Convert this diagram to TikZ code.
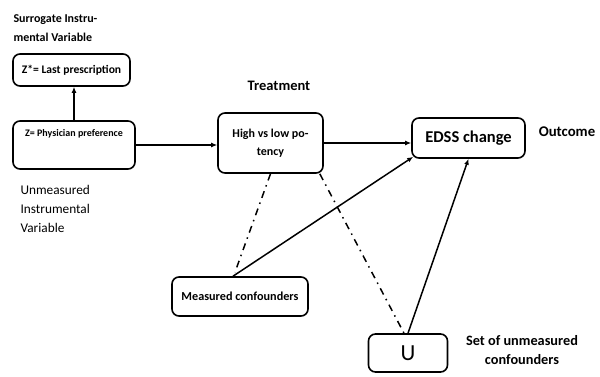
\documentclass[tikz,border=0pt]{standalone}
\usepackage{fontspec}
\setmainfont{Carlito}
\usetikzlibrary{arrows.meta}
\begin{document}
\begin{tikzpicture}[x=1pt,y=-1pt,
 box/.style={draw, line width=1.6pt, rounded corners=7pt, inner sep=0pt, align=center},
 bf/.style={font=\bfseries\fontsize{#1}{#1}\selectfont},
 arr/.style={line width=1.5pt, -{Latex[length=6pt,width=5pt]}},
 dd/.style={line width=1.5pt, dash pattern=on 7pt off 5pt on 1.5pt off 5pt}]
\useasboundingbox (0,0) rectangle (600,376);
% boxes
\node[box, minimum width=117pt, minimum height=32pt, bf=11.6] (Zs) at (71.5,70) {Z*= Last prescription};
\node[box, minimum width=122pt, minimum height=48pt] (Z) at (74,145) {};
\node[bf=10] (Zt) at (74,134) {Z= Physician preference};
\node[box, minimum width=105pt, minimum height=60pt, font=\bfseries\fontsize{12}{18}\selectfont] (T) at (270.5,143) {High vs low po-\\tency};
\node[box, minimum width=113pt, minimum height=40pt, font=\bfseries\fontsize{16.5}{18}\selectfont] (E) at (468.5,138) {EDSS change};
\node[box, minimum width=136pt, minimum height=39pt, bf=12.2] (M) at (240,296.5) {Measured confounders};
\node[box, minimum width=79pt, minimum height=38pt, font=\fontsize{23}{24}\selectfont] (U) at (408,353) {U};
% labels
\node[anchor=west, align=left, font=\bfseries\fontsize{12}{19}\selectfont] (lsur) at (10,28) {Surrogate Instru-\\mental Variable};
\node[anchor=west, align=left, font=\fontsize{13.3}{19}\selectfont] (lunm) at (17,209) {Unmeasured\\Instrumental\\Variable};
\node[bf=14.5] (ltr) at (279,86) {Treatment};
\node[bf=14.8] (lout) at (567,132) {Outcome};
\node[align=center, font=\bfseries\fontsize{14.3}{19}\selectfont] (lset) at (522,350) {Set of unmeasured\\confounders};
% connectors
\draw[arr] (Z.north) -- (Z.north |- Zs.south);
\draw[arr] (Z.east) -- (Z.east -| T.west);
\draw[arr] (T.east) -- (T.east -| E.west);
\draw[arr] ([xshift=-7pt]M.north) -- ([xshift=2pt,yshift=2pt]E.south west);
\draw[arr] (U.north) -- (E.south);
\draw[dd] (T.south) -- ([xshift=-5pt,yshift=4pt]M.north);
\draw[dd] ([xshift=-4pt]T.south east) -- ([xshift=-4pt]U.north);
\end{tikzpicture}
\end{document}
